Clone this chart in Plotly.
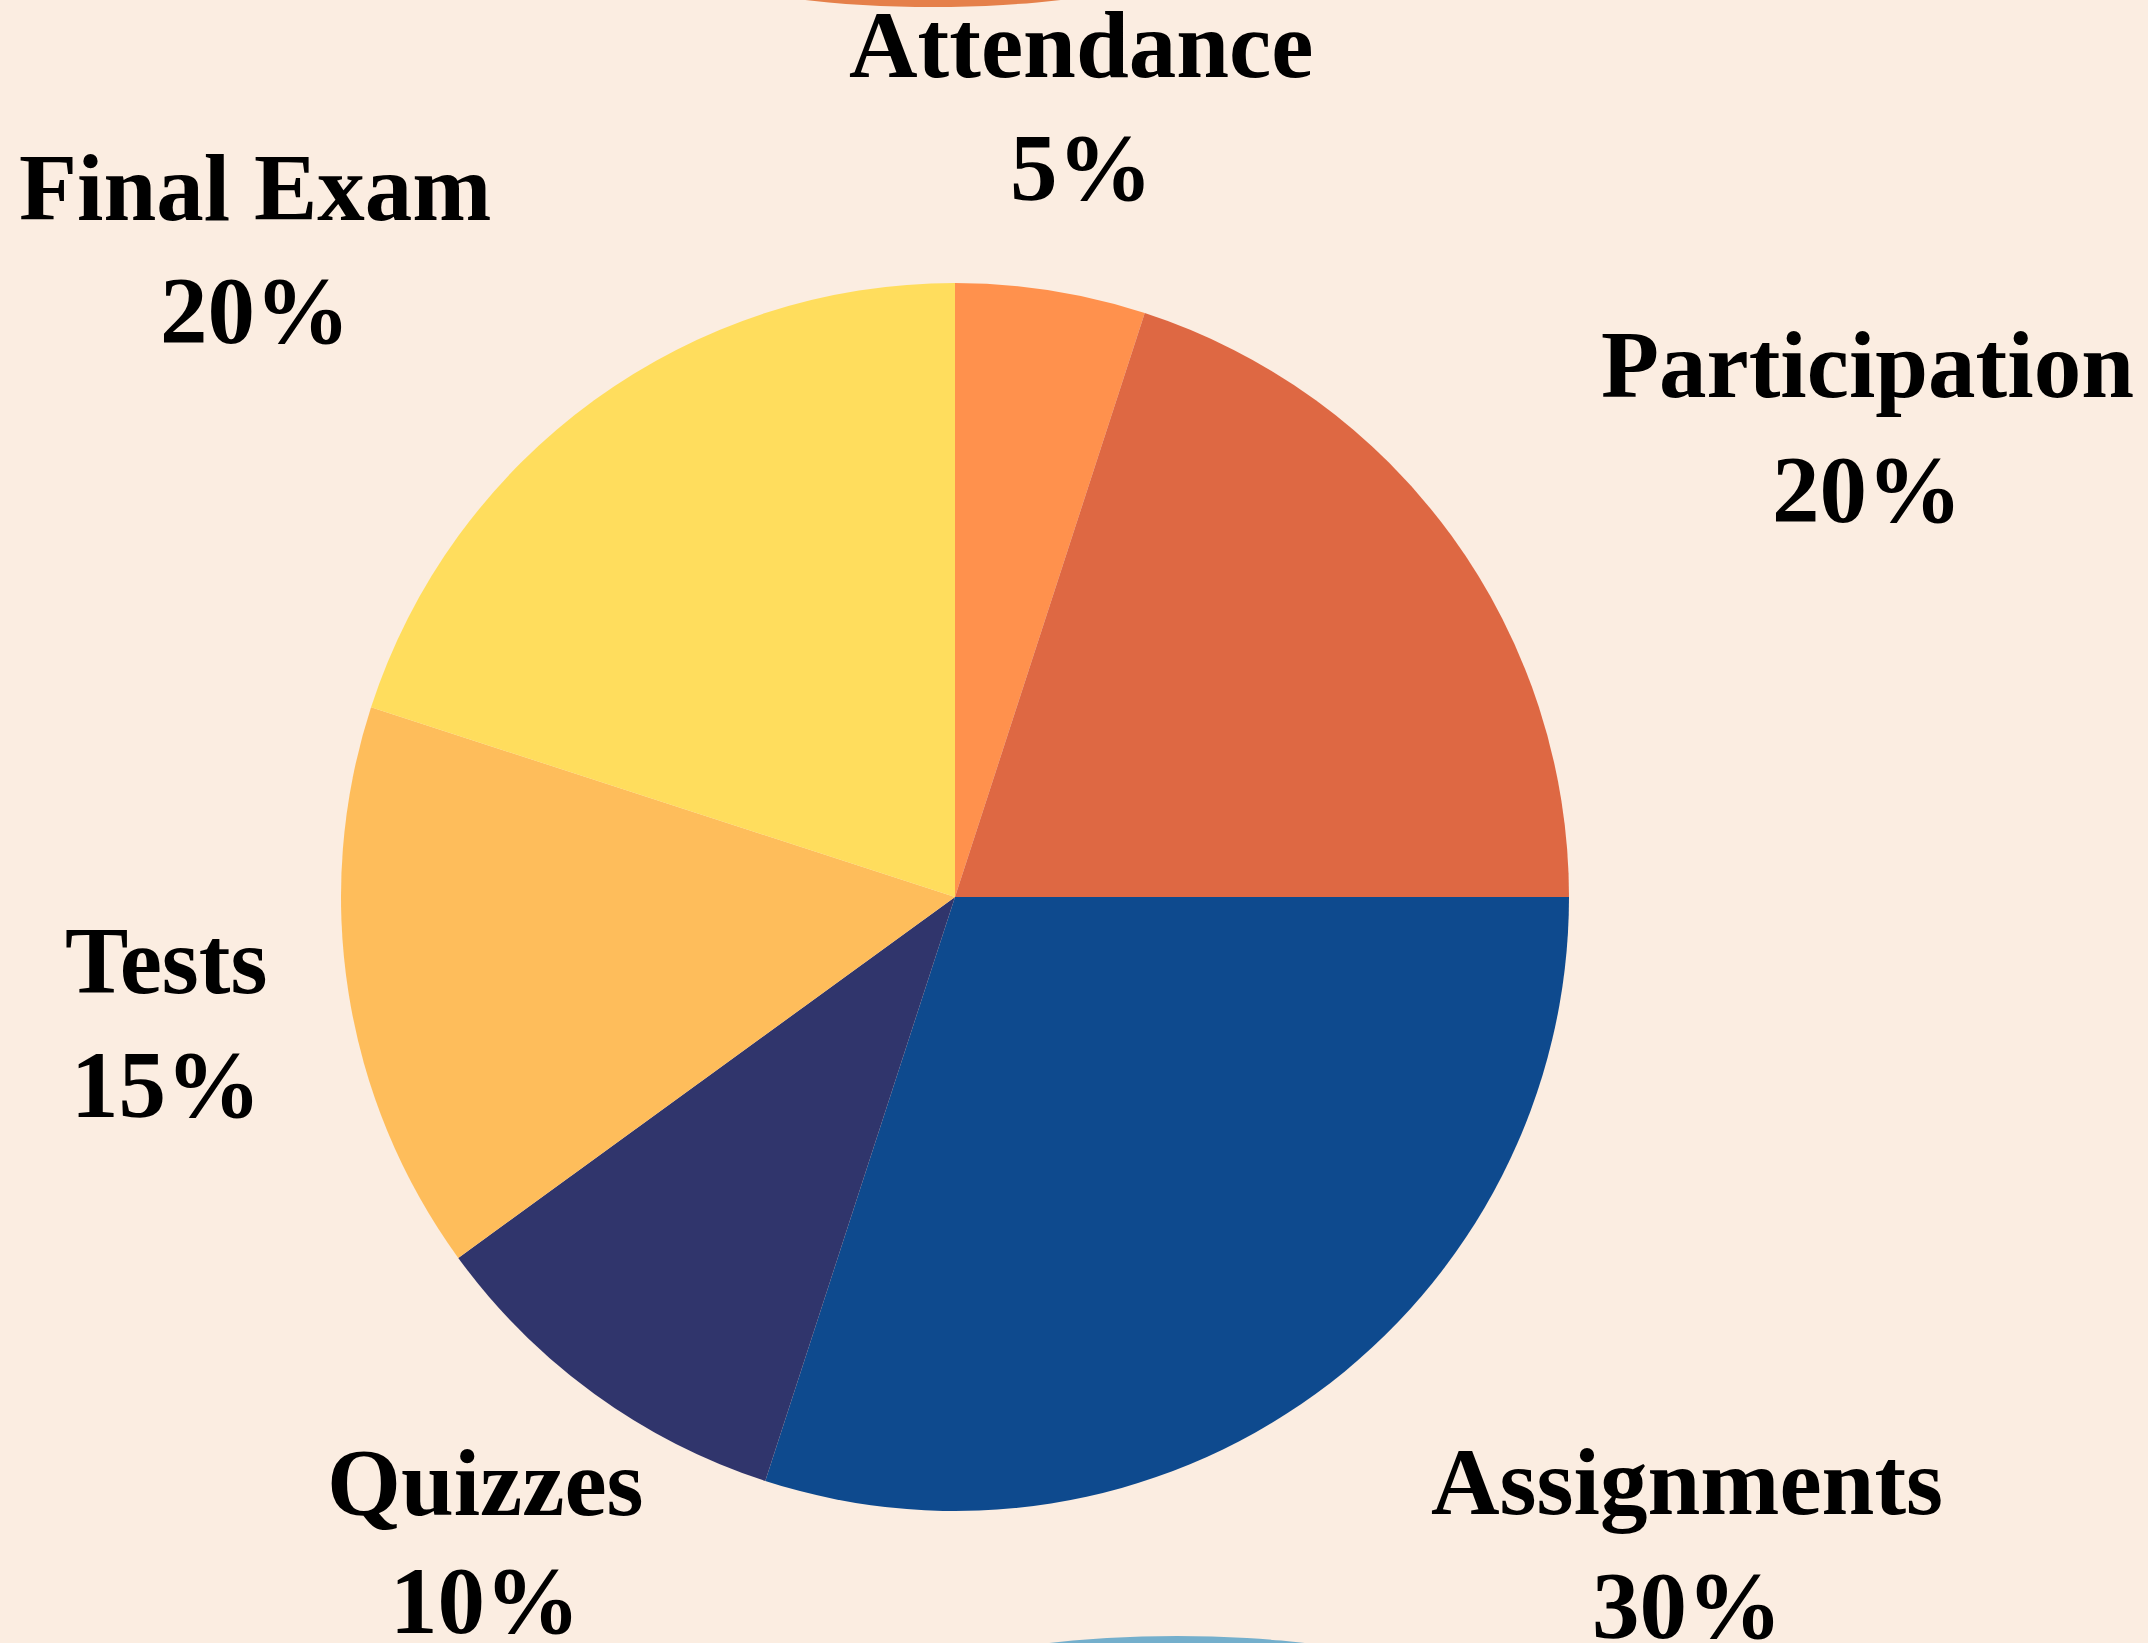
import plotly.graph_objects as go

categories = ["Attendance", "Participation", "Assignments", "Quizzes", "Tests", "Final Exam"]
weights = [5, 20, 30, 10, 15, 20]
colors = ["#FF914D", "#DE6843", "#0E4A8E", "#30356C", "#FEBD5B", "#FFDD5D"]

W, H = 2148, 1643
BG = "#FBEDE1"
FONT = "Liberation Serif, DejaVu Serif, serif"
FSIZE = 95

# pie geometry (pixels)
cx, cy, r = 955, 897, 614

# label layout: (center x, baseline of name line, baseline of percent line) in pixels
LABEL_POS = {
    "Attendance": (1081, 77, 200),
    "Participation": (1867, 397, 522),
    "Assignments": (1687, 1514, 1638),
    "Quizzes": (485, 1515, 1633),
    "Tests": (166, 993, 1117),
    "Final Exam": (255, 220, 343),
}

def dom_x(c, rr):
    return [(c - rr) / W, (c + rr) / W]

def dom_y(c, rr):
    return [1 - (c + rr) / H, 1 - (c - rr) / H]

fig = go.Figure()
fig.add_trace(go.Pie(
    labels=categories, values=weights,
    marker=dict(colors=colors, line=dict(width=0)),
    sort=False, direction="clockwise", rotation=0,
    textinfo="none",
    hovertemplate="%{label}: %{percent:.0%}<extra></extra>",
    showlegend=False,
    domain=dict(x=dom_x(cx, r), y=dom_y(cy, r)),
))

total = sum(weights)
annotations = []
for cat, w in zip(categories, weights):
    x, b1, b2 = LABEL_POS[cat]
    off = 0.3375 * FSIZE
    for txt, base in ((cat, b1), (f"{round(100 * w / total)}%", b2)):
        annotations.append(dict(
            x=x / W, y=1 - (base - off) / H, xref="paper", yref="paper",
            xanchor="center", yanchor="middle", showarrow=False, text=txt,
            font=dict(family=FONT, size=FSIZE, color="#000000", weight="bold"),
        ))

def ell(xc, yc, rx, ry, color):
    return dict(type="circle", xref="paper", yref="paper",
                x0=(xc - rx) / W, x1=(xc + rx) / W,
                y0=1 - (yc + ry) / H, y1=1 - (yc - ry) / H,
                fillcolor=color, line=dict(width=0), layer="below")

fig.update_layout(
    width=W, height=H,
    margin=dict(l=0, r=0, t=0, b=0),
    paper_bgcolor=BG, plot_bgcolor=BG,
    font=dict(family=FONT, color="#000000"),
    shapes=[ell(933, -100, 359, 107, "#E5804A"), ell(1177, 1743, 359, 107, "#74AFCC")],
    annotations=annotations,
)

fig.write_html(
    "out.html",
    config={"displayModeBar": False},
    post_script="document.body.style.margin='0';document.body.style.background='#FBEDE1';"
                "document.documentElement.style.overflow='hidden';",
)
